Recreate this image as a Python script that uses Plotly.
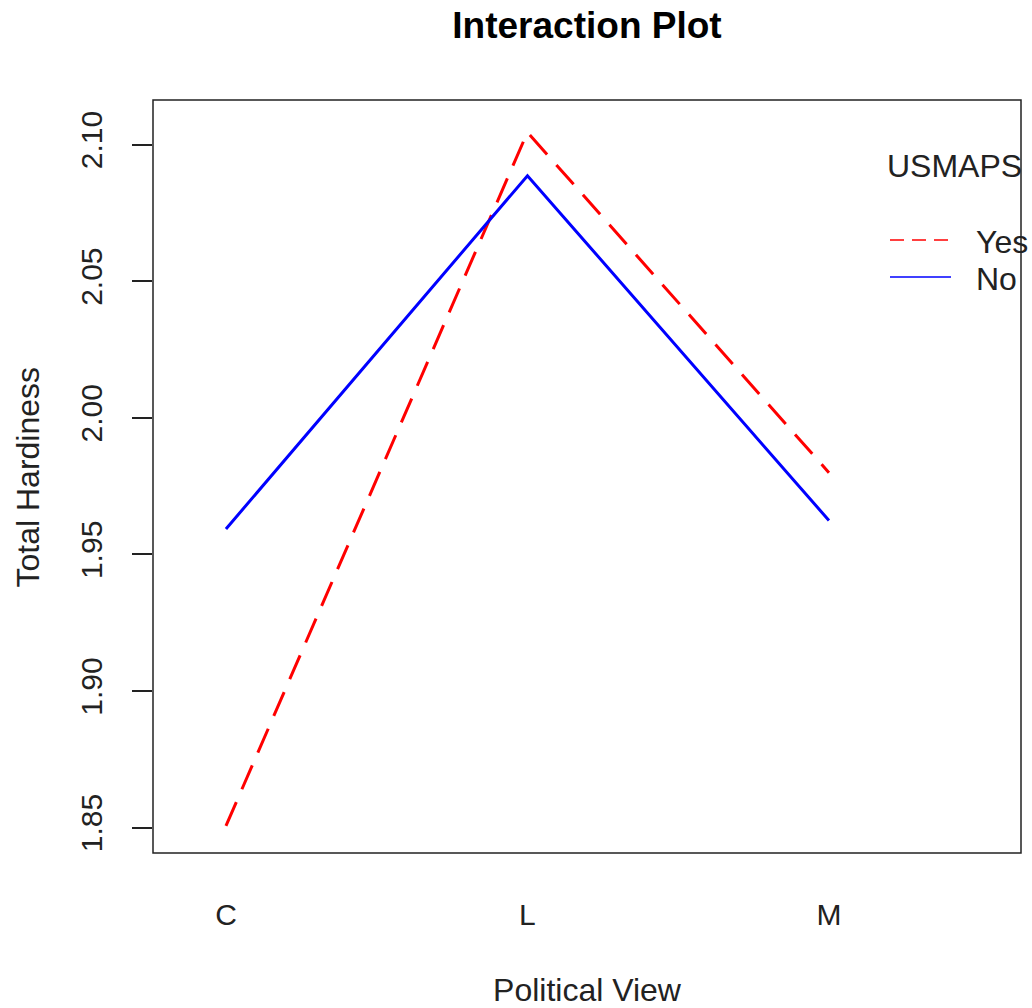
import plotly.graph_objects as go

categories = ["C", "L", "M"]
series_names = ["Yes", "No"]
yes_values = [1.8506, 2.1045, 1.9799]
no_values = [1.9593, 2.0886, 1.9624]
y_ticks = [1.85, 1.90, 1.95, 2.00, 2.05, 2.10]
y_tick_labels = ["1.85", "1.90", "1.95", "2.00", "2.05", "2.10"]
colors = ["#ff0000", "#0000ff"]
dashes = ["26px,14px", "solid"]

FONT = "Liberation Sans, Arial, sans-serif"
xpos = [1, 2, 3]

fig = go.Figure()
for name, vals, col, dash in zip(series_names, [yes_values, no_values], colors, dashes):
    fig.add_trace(go.Scatter(x=xpos, y=vals, mode="lines", name=name,
                             line=dict(color=col, width=3, dash=dash),
                             showlegend=False))

fig.update_layout(
    width=1032, height=1008,
    margin=dict(l=153, r=11, t=100, b=155),
    paper_bgcolor="white", plot_bgcolor="white",
    font=dict(family=FONT, size=30, color="#222222"),
    title=dict(text="<b>Interaction Plot</b>", x=(153 + 1021) / 2 / 1032, xanchor="center",
               y=1 - 25 / 1008, yanchor="middle", font=dict(size=37, color="#000000")),
    xaxis=dict(range=[0.758, 3.637], tickvals=xpos, ticktext=categories, showgrid=False,
               zeroline=False, showline=False, ticks="", ticklabelstandoff=41,
               tickfont=dict(size=30), automargin=False,
               title=dict(text="Political View", standoff=51, font=dict(size=32))),
    yaxis=dict(range=[1.8407, 2.1163], tickvals=y_ticks, ticktext=y_tick_labels,
               showgrid=False, zeroline=False, showline=False, ticks="outside",
               ticklen=20, tickcolor="#222222", tickwidth=1.5, tickangle=-90,
               ticklabelstandoff=18, tickfont=dict(size=30), automargin=False),
)

# plot box
fig.add_shape(type="rect", xref="paper", yref="paper", x0=0, x1=1, y0=0, y1=1,
              line=dict(color="#222222", width=1.5))

def px_x(p):
    return (p - 153) / (1021 - 153)

def px_y(p):
    return (853 - p) / (853 - 100)

# y-axis title
fig.add_annotation(text="Total Hardiness", xref="paper", yref="paper", x=px_x(27),
                   y=0.5, xanchor="center", yanchor="middle", textangle=-90,
                   showarrow=False, font=dict(size=32, color="#222222"))

# manual legend
fig.add_annotation(text="USMAPS", xref="paper", yref="paper", x=px_x(885), y=px_y(166),
                   xanchor="left", yanchor="middle", showarrow=False,
                   font=dict(size=32, color="#222222"))
for name, col, dash, yy in zip(series_names, colors, dashes, [240, 277]):
    fig.add_shape(type="line", xref="paper", yref="paper", x0=px_x(890), x1=px_x(951),
                  y0=px_y(yy), y1=px_y(yy), line=dict(color=col, width=1.6,
                  dash="14px,8px" if dash != "solid" else "solid"))
    fig.add_annotation(text=name, xref="paper", yref="paper", x=px_x(974), y=px_y(yy + 2),
                       xanchor="left", yanchor="middle", showarrow=False,
                       font=dict(size=32, color="#222222"))

fig.write_html("out.html")
